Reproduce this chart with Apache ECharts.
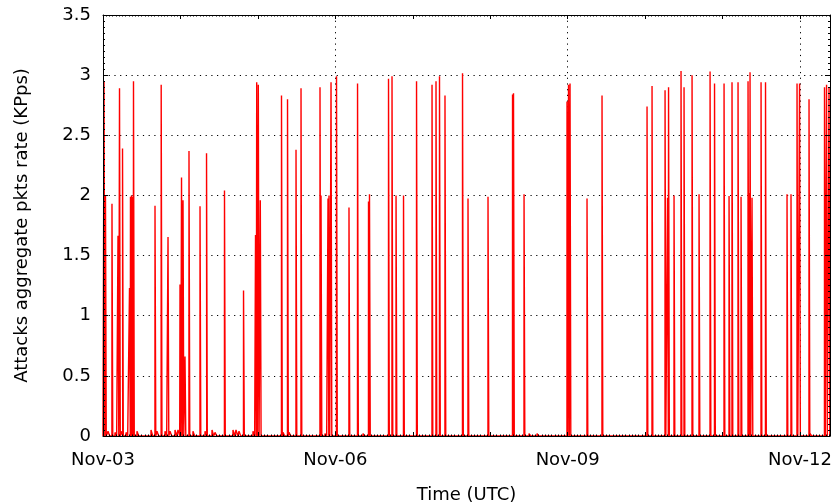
<!DOCTYPE html>
<html><head><meta charset="utf-8">
<script src="https://cdn.jsdelivr.net/npm/echarts@6/dist/echarts.min.js"></script>
<style>html,body{margin:0;padding:0;background:#fff}#c{width:835px;height:504px}</style>
</head><body><div id="c"></div>
<script>
// ---- data (times are UTC, year 2015, month 11) ----
const spikeTimes = [
'11-03 00:19','11-03 00:46','11-03 02:47','11-03 04:39','11-03 05:07','11-03 06:03','11-03 08:13','11-03 08:31','11-03 08:50','11-03 09:09','11-03 09:27','11-03 16:07','11-03 18:02','11-03 20:09','11-03 23:52',
'11-04 00:20','11-04 00:48','11-04 01:25','11-04 02:39','11-04 06:04','11-04 08:05','11-04 13:39','11-04 19:33','11-04 23:16','11-04 23:38',
'11-05 00:08','11-05 00:45','11-05 07:19','11-05 09:11','11-05 11:49','11-05 13:22','11-05 19:15','11-05 19:34','11-05 21:44','11-05 22:02','11-05 22:40',
'11-06 00:22','11-06 04:14','11-06 06:53','11-06 10:17','11-06 10:35','11-06 16:29','11-06 17:34','11-06 18:49','11-06 21:08',
'11-07 01:10','11-07 05:58','11-07 07:12','11-07 08:17','11-07 09:59','11-07 15:25','11-07 17:07','11-07 23:19',
'11-08 06:55','11-08 07:13','11-08 10:29','11-08 23:48',
'11-09 00:16','11-09 00:44','11-09 06:00','11-09 10:39',
'11-10 00:36','11-10 02:09','11-10 06:11','11-10 06:57','11-10 07:16','11-10 08:58','11-10 11:08','11-10 12:04','11-10 14:33','11-10 16:43','11-10 20:08','11-10 21:31',
'11-11 00:28','11-11 02:01','11-11 02:56','11-11 04:48','11-11 05:44','11-11 07:54','11-11 08:13','11-11 08:31','11-11 09:08','11-11 11:56','11-11 13:19','11-11 19:59','11-11 21:13','11-11 23:05','11-11 23:52',
'11-12 02:48','11-12 07:36','11-12 08:14','11-12 09:00'
];
const spikeValues = [
2.95,2.00,1.93,1.665,2.89,2.39,1.23,1.99,2.00,1.99,2.95,1.915,2.92,1.655,1.26,
2.15,1.96,0.66,2.37,1.91,2.35,2.04,1.21,1.67,2.94,
2.92,1.96,2.83,2.80,2.38,2.89,2.90,2.00,1.975,2.00,2.94,
2.99,1.90,2.93,1.95,2.01,2.97,2.99,2.00,2.00,
2.95,2.92,2.95,2.99,2.83,3.015,1.975,1.99,
2.84,2.85,2.01,2.78,
2.92,2.93,1.975,2.83,
2.74,2.91,2.875,1.98,2.90,2.00,3.035,2.90,3.00,2.01,3.03,2.93,
2.93,1.995,2.94,2.94,1.99,2.95,2.02,3.025,1.98,2.94,2.94,2.01,2.01,2.93,2.93,
2.80,2.90,2.92,2.90
];
const bumpTimes = ['11-03 01:33','11-03 03:43','11-03 05:35','11-03 07:08','11-03 10:32','11-03 14:53','11-03 16:44','11-03 19:13','11-03 20:46','11-03 22:19','11-03 23:15','11-04 03:53','11-04 07:37','11-04 09:47','11-04 10:43','11-04 16:17','11-04 17:13','11-04 18:09','11-04 22:29','11-05 07:47','11-05 09:39','11-05 20:48','11-06 08:35','11-08 05:13','11-08 12:02','11-08 14:31','11-09 18:24','11-12 03:07'];
const bumpValues = [0.04,0.03,0.04,0.03,0.04,0.05,0.04,0.04,0.04,0.05,0.05,0.04,0.04,0.05,0.03,0.05,0.05,0.04,0.04,0.03,0.03,0.02,0.02,0.01,0.02,0.02,0.01,0.02];
const xTickLabels = ['Nov-03','Nov-06','Nov-09','Nov-12'];
const rangeEnd = '11-12 09:18';

// ---- helpers ----
function hoursOf(s){ // hours since Nov-03 00:00 UTC
  const [md, hm] = s.split(' ');
  const [mo, d] = md.split('-').map(Number);
  const [h, m] = hm.split(':').map(Number);
  return (Date.UTC(2015, mo-1, d, h, m) - Date.UTC(2015, 10, 3)) / 3600000;
}
const SPIKE_W = 0.22, BUMP_W = 0.5, EDGE = 0.02;
let events = [];
spikeTimes.forEach((t,i)=>events.push({t:hoursOf(t), v:spikeValues[i], w:SPIKE_W}));
bumpTimes.forEach((t,i)=>events.push({t:hoursOf(t), v:bumpValues[i], w:BUMP_W}));
events.sort((a,b)=>a.t-b.t);
const XMAX = hoursOf(rangeEnd);
const data = [[0,0]];
events.forEach(e=>{
  data.push([e.t-EDGE,0],[e.t,e.v],[e.t+e.w,e.v],[e.t+e.w+EDGE,0]);
});
data.push([XMAX,0]);

const FONT = 'DejaVu Sans';
const dotted = {color:'#000', width:1, type:[1.2,4.5]};
const chart = echarts.init(document.getElementById('c'), null, {renderer:'canvas'});
chart.setOption({
  animation:false,
  backgroundColor:'#fff',
  grid:{left:103, right:5, top:15, bottom:68, containLabel:false, outerBoundsMode:'none'},
  xAxis:[
    {type:'value', min:0, max:XMAX, interval:24, position:'bottom', z:3,
     axisLine:{show:true, onZero:false, lineStyle:{color:'#000', width:1}},
     axisTick:{show:true, inside:true, length:4, lineStyle:{color:'#000'}},
     minorTick:{show:true, splitNumber:24, length:1.5, lineStyle:{color:'#000'}},
     axisLabel:{show:true, showMaxLabel:false, margin:15, fontSize:18, fontFamily:FONT, color:'#000',
       formatter:v=>{ const k=Math.round(v); return (k%72===0 && Math.abs(v-k)<1e-6) ? (xTickLabels[k/72]||'') : ''; }},
     splitLine:{show:false},
     name:'Time (UTC)', nameLocation:'middle', nameGap:50,
     nameTextStyle:{fontSize:18, fontFamily:FONT, color:'#000'}},
    {type:'value', min:0, max:XMAX, interval:72, position:'bottom', z:0,
     axisLine:{show:false}, axisTick:{show:false}, axisLabel:{show:false},
     splitLine:{show:true, lineStyle:dotted}},
    {type:'value', min:0, max:XMAX, interval:24, position:'top', z:3,
     axisLine:{show:true, onZero:false, lineStyle:{color:'#000', width:1}},
     axisTick:{show:true, inside:true, length:4, lineStyle:{color:'#000'}},
     minorTick:{show:true, splitNumber:24, length:1.5, lineStyle:{color:'#000'}},
     axisLabel:{show:false}, splitLine:{show:false}}
  ],
  yAxis:[
    {type:'value', min:0, max:3.5, interval:0.5, position:'left', z:3,
     axisLine:{show:true, onZero:false, lineStyle:{color:'#000', width:1}},
     axisTick:{show:true, inside:true, length:5, lineStyle:{color:'#000'}},
     minorTick:{show:true, splitNumber:10, length:2, lineStyle:{color:'#000'}},
     axisLabel:{margin:12, fontSize:18, fontFamily:FONT, color:'#000'},
     splitLine:{show:false},
     name:'Attacks aggregate pkts rate (KPps)', nameLocation:'middle', nameGap:72, nameRotate:90,
     nameTextStyle:{fontSize:18, fontFamily:FONT, color:'#000'}},
    {type:'value', min:0, max:3.5, interval:0.5, position:'left', z:0,
     axisLine:{show:false}, axisTick:{show:false}, axisLabel:{show:false},
     splitLine:{show:true, lineStyle:dotted}},
    {type:'value', min:0, max:3.5, interval:0.5, position:'right', z:3,
     axisLine:{show:true, onZero:false, lineStyle:{color:'#000', width:1}},
     axisTick:{show:true, inside:true, length:5, lineStyle:{color:'#000'}},
     minorTick:{show:true, splitNumber:10, length:2, lineStyle:{color:'#000'}},
     axisLabel:{show:false}, splitLine:{show:false}}
  ],
  series:[{
    type:'line', xAxisIndex:0, yAxisIndex:0, data:data, showSymbol:false, symbol:'none',
    lineStyle:{color:'#ff0000', width:1.4}, z:2, silent:true
  }]
});
</script></body></html>
